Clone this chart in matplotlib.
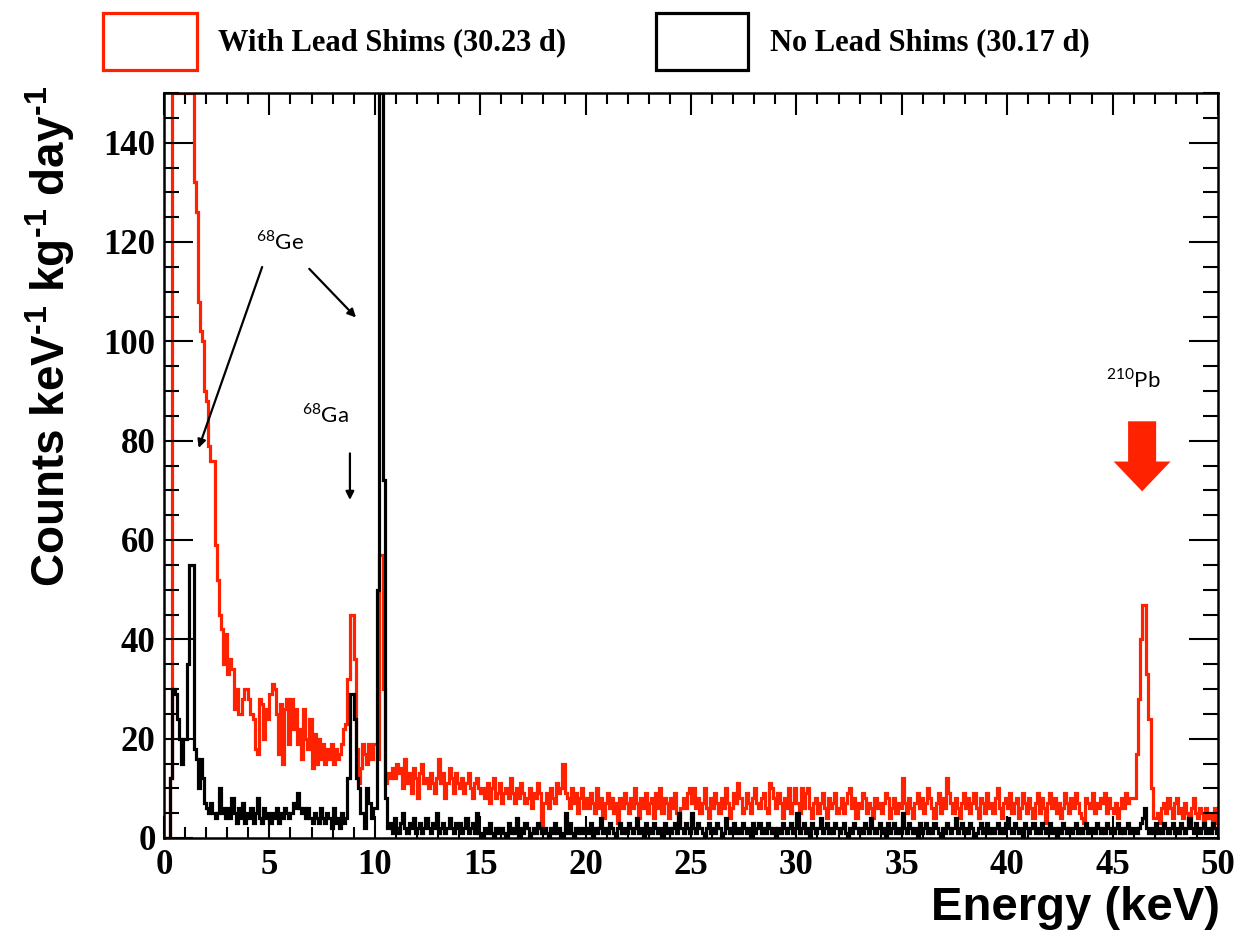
import numpy as np
import matplotlib
matplotlib.use('Agg')
import matplotlib.pyplot as plt
from matplotlib.patches import Rectangle
from matplotlib.ticker import MultipleLocator

# spectra, 0.1 keV bins from 0 to 50 keV (one row = 5 keV)
bin_width = 0.1
with_shims = [
    0, 0, 0, 12, 420, 610, 560, 480, 400, 330, 280, 230, 190, 160, 132, 126, 108, 102, 100, 90,
    88, 79, 76, 76, 59, 52, 45, 42, 35, 41, 33, 36, 34, 26, 30, 25, 25, 28, 30, 30,
    28, 25, 24, 18, 17, 28, 27, 20, 26, 24,
    29, 31, 30, 25, 17, 27, 15, 26, 28, 19, 28, 22, 26, 19, 22, 16, 26, 20, 18, 24,
    14, 21, 15, 20, 16, 19, 15, 18, 16, 19, 15, 18, 16, 17, 19, 22, 23, 32, 45, 45,
    36, 18, 11, 14, 19, 17, 15, 19, 16, 19,
    19, 16, 57, 57, 30, 11, 13, 12, 14, 12, 15, 13, 14, 10, 16, 11, 13, 9, 14, 12,
    8, 13, 15, 11, 12, 10, 13, 11, 9, 12, 16, 11, 13, 8, 11, 14, 12, 9, 13, 11,
    10, 12, 9, 11, 13, 10, 8, 11, 12, 10,
    9, 10, 8, 11, 7, 10, 12, 8, 9, 11, 7, 9, 10, 8, 12, 9, 7, 10, 8, 11,
    9, 7, 8, 10, 6, 9, 8, 11, 9, 2, 7, 9, 6, 10, 8, 7, 11, 9, 10, 15,
    9, 8, 6, 10, 7, 9, 5, 8, 10, 6,
    8, 6, 9, 7, 5, 10, 6, 8, 4, 7, 9, 6, 8, 5, 7, 3, 8, 6, 9, 7,
    5, 8, 6, 10, 7, 4, 8, 6, 9, 5, 7, 8, 4, 9, 6, 10, 5, 8, 7, 4,
    8, 6, 9, 5, 3, 6, 8, 6, 9, 10,
    7, 10, 6, 8, 5, 7, 10, 6, 4, 8, 6, 9, 7, 5, 8, 6, 10, 7, 4, 6,
    9, 7, 11, 8, 5, 6, 9, 7, 5, 8, 10, 7, 6, 8, 9, 6, 5, 11, 10, 8,
    6, 9, 7, 4, 8, 6, 10, 5, 7, 10,
    7, 5, 10, 6, 9, 10, 6, 4, 7, 8, 5, 7, 9, 6, 4, 8, 6, 7, 9, 5,
    6, 8, 5, 7, 9, 10, 6, 8, 4, 7, 6, 9, 8, 5, 7, 6, 4, 8, 6, 7,
    5, 7, 9, 8, 4, 6, 8, 5, 7, 6,
    12, 7, 5, 8, 6, 4, 7, 9, 6, 8, 5, 7, 10, 8, 6, 4, 7, 9, 5, 8,
    6, 12, 9, 7, 5, 8, 6, 4, 7, 9, 6, 8, 5, 7, 9, 6, 4, 8, 7, 5,
    9, 6, 7, 5, 8, 10, 6, 4, 7, 8,
    6, 9, 5, 7, 8, 4, 6, 9, 7, 5, 8, 6, 4, 7, 9, 5, 8, 6, 3, 7,
    9, 6, 8, 5, 7, 4, 6, 9, 7, 5, 8, 6, 9, 7, 5, 4, 3, 8, 7, 6,
    9, 5, 7, 6, 8, 7, 9, 5, 8, 6,
    5, 7, 4, 6, 8, 6, 9, 7, 8, 8, 8, 17, 28, 40, 47, 47, 33, 24, 10, 4,
    4, 5, 3, 6, 7, 5, 8, 6, 4, 7, 8, 5, 6, 4, 7, 5, 3, 6, 8, 5,
    4, 6, 5, 3, 6, 4, 5, 2, 6, 3,
]
no_shims = [
    0, 0, 0, 12, 30, 29, 24, 20, 15, 20, 20, 35, 55, 55, 18, 16, 10, 16, 12, 7,
    6, 5, 7, 5, 4, 5, 10, 5, 6, 4, 6, 4, 8, 5, 3, 6, 4, 7, 3, 5,
    4, 6, 3, 5, 8, 4, 3, 6, 4, 5,
    3, 5, 4, 6, 3, 5, 4, 6, 5, 4, 5, 7, 6, 9, 6, 5, 6, 4, 6, 4,
    3, 5, 4, 3, 6, 4, 3, 5, 4, 2, 6, 3, 4, 2, 5, 3, 4, 12, 29, 29,
    24, 12, 10, 5, 5, 2, 10, 7, 4, 6,
    6, 50, 400, 400, 72, 8, 2, 3, 1, 4, 2, 1, 3, 5, 2, 1, 3, 2, 4, 1,
    2, 3, 1, 2, 4, 2, 1, 3, 2, 5, 1, 2, 3, 1, 2, 4, 2, 1, 3, 2,
    3, 1, 2, 4, 1, 2, 3, 1, 5, 1,
    1, 0, 2, 1, 3, 1, 0, 2, 1, 2, 2, 1, 0, 3, 1, 2, 1, 4, 0, 2,
    1, 3, 2, 0, 1, 2, 1, 3, 2, 1, 2, 1, 0, 2, 1, 3, 1, 2, 0, 1,
    5, 1, 3, 1, 0, 2, 1, 2, 1, 2,
    2, 1, 3, 0, 2, 1, 2, 4, 1, 2, 1, 3, 2, 1, 0, 2, 3, 1, 2, 1,
    3, 2, 1, 2, 4, 1, 2, 0, 3, 1, 2, 1, 3, 2, 1, 2, 0, 3, 1, 2,
    1, 2, 3, 1, 5, 2, 1, 3, 2, 1,
    5, 2, 1, 3, 2, 1, 0, 2, 3, 1, 2, 1, 3, 2, 0, 1, 4, 2, 1, 2,
    3, 1, 2, 1, 3, 2, 1, 2, 0, 3, 1, 2, 3, 1, 2, 1, 3, 2, 1, 2,
    0, 2, 1, 3, 2, 1, 2, 3, 1, 2,
    5, 1, 2, 3, 1, 2, 0, 3, 2, 1, 2, 4, 1, 2, 3, 1, 2, 1, 3, 2,
    1, 2, 3, 1, 0, 2, 1, 3, 2, 1, 2, 1, 3, 2, 1, 4, 2, 1, 2, 3,
    1, 2, 0, 3, 1, 2, 3, 1, 2, 1,
    5, 2, 1, 3, 2, 1, 2, 0, 3, 1, 2, 3, 1, 2, 1, 3, 2, 1, 0, 2,
    1, 3, 2, 1, 2, 4, 1, 2, 3, 1, 2, 1, 3, 2, 0, 1, 2, 3, 1, 2,
    3, 1, 2, 1, 2, 3, 1, 2, 1, 3,
    4, 2, 1, 3, 2, 1, 2, 0, 3, 2, 1, 2, 3, 1, 2, 1, 3, 2, 1, 2,
    3, 1, 2, 0, 2, 1, 3, 2, 1, 2, 1, 2, 3, 1, 2, 1, 2, 3, 1, 2,
    2, 1, 3, 2, 1, 2, 1, 3, 2, 1,
    1, 2, 3, 1, 2, 1, 2, 3, 1, 2, 2, 1, 2, 3, 4, 6, 2, 1, 2, 1,
    3, 1, 2, 1, 3, 2, 1, 2, 3, 1, 2, 1, 3, 2, 1, 2, 4, 2, 1, 3,
    2, 1, 2, 3, 1, 2, 1, 3, 2, 1,
]
labels = ['With Lead Shims (30.23 d)', 'No Lead Shims (30.17 d)']
colors = ['#ff2200', 'black']
y_max = 150

plt.rcParams['mathtext.fontset'] = 'custom'
plt.rcParams['mathtext.rm'] = 'Liberation Sans:bold'
plt.rcParams['mathtext.sf'] = 'Lato'
label_font = ['Liberation Sans Narrow', 'Liberation Sans', 'DejaVu Sans']
tick_font = ['Liberation Serif', 'DejaVu Serif']

W, H = 1241, 944
fig = plt.figure(figsize=(W / 100, H / 100), dpi=100)
ax = fig.add_axes([164 / W, 1 - 838 / H, (1218 - 164) / W, (838 - 93) / H])

edges = np.arange(len(with_shims) + 1) * bin_width
for vals, col in zip([with_shims, no_shims], colors):
    ax.stairs(np.minimum(vals, y_max), edges, color=col, lw=2.3, baseline=None)

ax.set_xlim(0, 50)
ax.set_ylim(0, y_max)
ax.xaxis.set_major_locator(MultipleLocator(5))
ax.xaxis.set_minor_locator(MultipleLocator(1))
ax.yaxis.set_major_locator(MultipleLocator(20))
ax.yaxis.set_minor_locator(MultipleLocator(5))
ax.tick_params(which='both', direction='in', top=True, right=True, width=1.5)
ax.tick_params(axis='x', which='major', length=16, pad=8)
ax.tick_params(axis='x', which='minor', length=8)
ax.tick_params(axis='y', which='major', length=21, pad=6)
ax.tick_params(axis='y', which='minor', length=11)
for lab in ax.get_xticklabels() + ax.get_yticklabels():
    lab.set_family(tick_font)
    lab.set_fontweight('bold')
    lab.set_fontsize(25)
for sp in ax.spines.values():
    sp.set_linewidth(1.8)

# axis titles, ROOT style (aligned to the axis ends)
fig.text(50 / W, 1 - 86 / H, r'Counts keV$^{\text{-1}}$ kg$^{\text{-1}}$ day$^{\text{-1}}$',
         rotation=90, ha='center', va='top', fontsize=33, fontweight='bold', family=label_font)
fig.text(1220 / W, 1 - 908 / H, 'Energy (keV)', ha='right', va='center',
         fontsize=34, fontweight='bold', family=label_font)

# annotations
ax.text(5.5, 120, r'$^{\mathsf{68}}$Ge', fontsize=16, family='Lato', ha='center', va='center')
ax.annotate('', xy=(1.6, 78), xytext=(4.7, 115.5),
            arrowprops=dict(arrowstyle='-|>', color='black', lw=1.6, mutation_scale=12))
ax.annotate('', xy=(9.2, 104.4), xytext=(6.8, 115),
            arrowprops=dict(arrowstyle='-|>', color='black', lw=1.6, mutation_scale=12))
ax.text(7.65, 85.3, r'$^{\mathsf{68}}$Ga', fontsize=16, family='Lato', ha='center', va='center')
ax.annotate('', xy=(8.82, 67.5), xytext=(8.82, 78),
            arrowprops=dict(arrowstyle='-|>', color='black', lw=1.6, mutation_scale=12))
ax.text(46.0, 92.3, r'$^{\mathsf{210}}$Pb', fontsize=16, family='Lato', ha='center', va='center')
ax.arrow(46.4, 83.9, 0, -14.1, width=1.33, head_width=2.7, head_length=6.0,
         length_includes_head=True, color=colors[0], lw=0)

# legend boxes at the top
boxes = [(103, 197), (656, 748)]
text_x = [218, 770]
for (x0, x1), tx, col, lab in zip(boxes, text_x, colors, labels):
    fig.add_artist(Rectangle((x0 / W, 1 - 70 / H), (x1 - x0) / W, 57 / H,
                             transform=fig.transFigure, fill=False, ec=col, lw=2.3))
    fig.text(tx / W, 1 - 43 / H, lab, ha='left', va='center', fontsize=22,
             fontweight='bold', family=tick_font)

fig.savefig('out.png', dpi=100)
